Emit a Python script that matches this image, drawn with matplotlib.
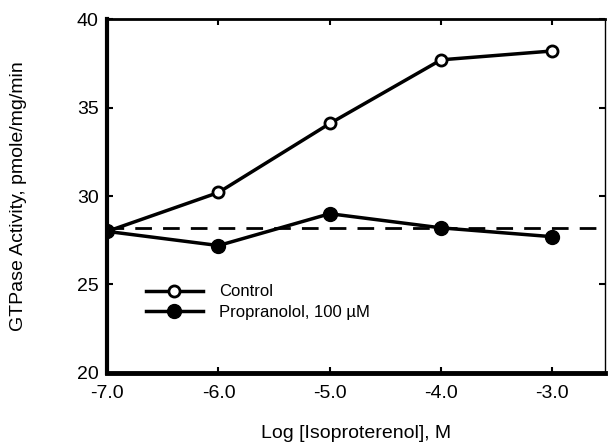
# ── 1. Packages ───────────────────────────────────────────────────────────────
import matplotlib
matplotlib.use("Agg")
import matplotlib.pyplot as plt

plt.rcParams["font.family"] = ["Liberation Sans", "DejaVu Sans"]

# ── 2. Data ───────────────────────────────────────────────────────────────────
log_iso      = [-7.0, -6.0, -5.0, -4.0, -3.0]
control      = [28.0, 30.2, 34.1, 37.7, 38.2]
propranolol  = [28.0, 27.2, 29.0, 28.2, 27.7]
baseline     = 28.2
x_ticks      = [-7.0, -6.0, -5.0, -4.0, -3.0]
x_ticklabels = ["-7.0", "-6.0", "-5.0", "-4.0", "-3.0"]
y_ticks      = [20, 25, 30, 35, 40]

# ── 3. Figure ─────────────────────────────────────────────────────────────────
fig = plt.figure(figsize=(6.09, 4.45), dpi=100)
ax = fig.add_axes([0.176, 0.162, 0.817, 0.795])

ax.plot(log_iso, control, color="black", lw=2.5, marker="o", ms=8,
        mfc="white", mec="black", mew=2, label="Control", zorder=3)
ax.plot(log_iso, propranolol, color="black", lw=2.5, marker="o", ms=10,
        mfc="black", mec="black", label="Propranolol, 100 \u00b5M", zorder=3)
ax.axhline(baseline, xmin=0, xmax=1, color="black", lw=2,
           dashes=(6, 4), zorder=2)

ax.set_xlim(-7.0, -2.53)
ax.set_ylim(20, 40)
ax.set_xticks(x_ticks)
ax.set_xticklabels(x_ticklabels)
ax.set_yticks(y_ticks)
ax.tick_params(direction="in", length=4, width=1.5, labelsize=14,
               top=True, right=True, pad=6)
ax.tick_params(axis="x", pad=9)

for side, w in [("left", 3), ("bottom", 3.5), ("top", 2), ("right", 1)]:
    ax.spines[side].set_linewidth(w)

ax.set_xlabel("Log [Isoproterenol], M", fontsize=14, labelpad=16)
ax.set_ylabel("GTPase Activity, pmole/mg/min", fontsize=14, labelpad=36)

ax.legend(loc="upper left", bbox_to_anchor=(0.078, 0.25), frameon=False,
          borderaxespad=0, borderpad=0, fontsize=12, handlelength=3.4,
          handletextpad=1.0, labelspacing=0.35)

fig.savefig("out.png", dpi=100)
